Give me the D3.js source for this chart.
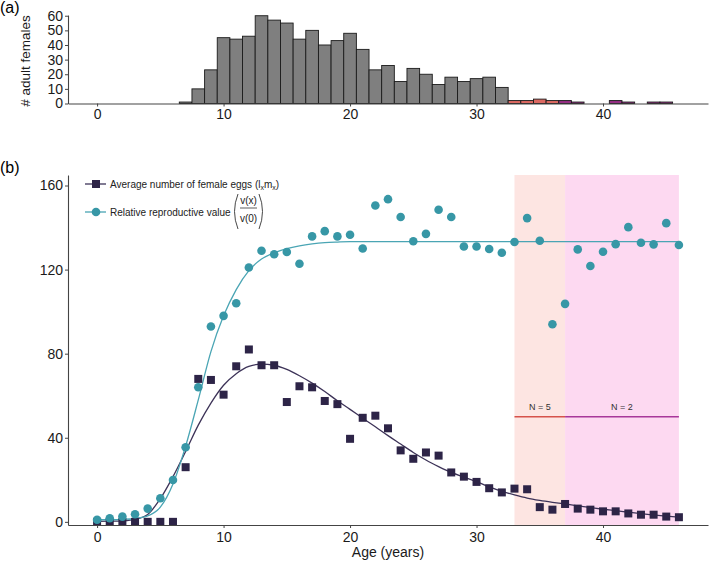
<!DOCTYPE html>
<html>
<head>
<meta charset="utf-8">
<script src="https://cdn.jsdelivr.net/npm/d3@7"></script>
<style>
  html, body { margin: 0; padding: 0; background: #fff; }
  svg { display: block; font-family: "Liberation Sans", Arial, sans-serif; }
  .axis path, .axis line { stroke: #444; }
  .axis text { fill: #1a1a1a; font-size: 14px; }
</style>
</head>
<body>
<svg id="chart" width="709" height="563"></svg>
<script>
// (a) histogram, one bin per year of age
var histAges = [7, 8, 9, 10, 11, 12, 13, 14, 15, 16, 17, 18, 19, 20, 21, 22, 23, 24, 25, 26,
  27, 28, 29, 30, 31, 32, 33, 34, 35, 36, 37, 38, 39, 40, 41, 42, 43, 44, 45];
var histCounts = [1, 10, 23, 45, 44, 46, 60, 57, 55, 44, 50, 40, 43, 48, 37, 23, 26, 15, 24, 20,
  13, 18, 15, 17, 18, 11, 2, 2, 3, 2, 2, 1, 0, 0, 2, 1, 0, 1, 1];

// (b) life table
var ages = [0, 1, 2, 3, 4, 5, 6, 7, 8, 9, 10, 11, 12, 13, 14, 15, 16, 17, 18, 19, 20, 21, 22, 23,
  24, 25, 26, 27, 28, 29, 30, 31, 32, 33, 34, 35, 36, 37, 38, 39, 40, 41, 42, 43, 44, 45, 46];
var eggs = [0, 0, 0, 0, 0, 0, 0, 26, 68, 67.5, 60.5, 74, 82, 74.5, 74.5, 57, 64.5, 64, 57.5, 56,
  39.5, 49.5, 50.5, 44.5, 34, 30, 33, 31.5, 23.5, 21.5, 19, 16, 14, 15.8, 15.5, 7, 5.8, 8.5,
  6.3, 5.8, 5, 5, 4, 3.4, 3.4, 2.5, 2.2];
var eggsFit = [0.2, 0.3, 0.5, 1.2, 3.5, 11, 21.5, 33.5, 46, 56.5, 65, 70.5, 74, 75, 74.5, 72.5,
  69.5, 66, 62, 57.6, 53.5, 49.3, 45.2, 41, 37, 33, 29.4, 26.3, 23.5, 21.3, 19.1, 16.6, 14.5,
  12.8, 11.3, 10.2, 9.3, 8.5, 7.6, 6.8, 6, 5.3, 4.6, 3.9, 3.3, 2.7, 2.2];
var repro = [1, 1.7, 2.5, 3.6, 6.3, 11.2, 19.9, 35.5, 64, 92.9, 98, 104, 121, 129, 127.3, 128.4,
  122.8, 135.8, 138.3, 135.8, 136.6, 130, 150.5, 153.5, 145, 133.5, 137, 148.5, 145, 131, 131,
  129.8, 128, 133.1, 144.5, 133.7, 94, 103.7, 129.6, 121.7, 128.5, 132.1, 140.2, 132.8, 132,
  142.1, 131.7];
var reproFit = [1, 1, 1.2, 1.6, 2.8, 7, 18, 36, 58, 81, 98, 110.5, 119.5, 125, 128, 130, 131.3,
  132.2, 132.8, 133.1, 133.3, 133.3, 133.3, 133.3, 133.3, 133.3, 133.3, 133.3, 133.3, 133.3,
  133.3, 133.3, 133.3, 133.3, 133.3, 133.3, 133.3, 133.3, 133.3, 133.3, 133.3, 133.3, 133.3,
  133.3, 133.3, 133.3, 133.3];

// small-sample age groups
var groupStart = [33, 37];
var groupEnd = [37, 46];
var groupN = [5, 2];
var groupLineValue = [50, 50];

var xTicks = [0, 10, 20, 30, 40];
var histYTicks = [0, 10, 20, 30, 40, 50, 60];
var yTicks = [0, 40, 80, 120, 160];

var svg = d3.select("#chart");

var barFill = ["#7f7f7f", "#dc6962", "#962e84"];
var shadeFill = ["#fde5e2", "#fdd9f1"];
var groupLine = ["#d6524b", "#a8379a"];
var eggColor = "#2d2447";
var eggLine = "#3d3358";
var reproColor = "#3797a6";
var reproLine = "#4aa5b4";

function groupOf(age) {
  if (age >= groupStart[1]) return 2;
  if (age >= groupStart[0]) return 1;
  return 0;
}

var x = d3.scaleLinear().domain([-2.3, 48.3]).range([68, 708]);

// ---- panel (a)
var yTop = d3.scaleLinear().domain([0, 60.5]).range([103.5, 15]);

svg.append("g").selectAll("rect")
  .data(histAges.map(function (a, i) { return { age: a, n: histCounts[i] }; }))
  .enter().append("rect")
  .filter(function (d) { return d.n > 0; })
  .attr("x", function (d) { return x(d.age - 0.5); })
  .attr("width", function (d) { return x(d.age + 0.5) - x(d.age - 0.5); })
  .attr("y", function (d) { return yTop(d.n); })
  .attr("height", function (d) { return yTop(0) - yTop(d.n); })
  .attr("fill", function (d) { return barFill[groupOf(d.age)]; })
  .attr("stroke", "#1a1a1a")
  .attr("stroke-width", 0.9);

svg.append("g").attr("class", "axis")
  .attr("transform", "translate(0," + yTop(0) + ")")
  .call(d3.axisBottom(x).tickValues(xTicks).tickSize(3).tickSizeOuter(0).tickPadding(3))
  .call(function (g) { g.select(".domain").attr("stroke-width", 1.1); });

svg.append("g").attr("class", "axis")
  .attr("transform", "translate(" + x.range()[0] + ",0)")
  .call(d3.axisLeft(yTop).tickValues(histYTicks).tickSize(3).tickSizeOuter(0).tickPadding(2))
  .call(function (g) { g.select(".domain").attr("stroke-width", 1.1); });

svg.append("text")
  .attr("transform", "translate(30,61) rotate(-90)")
  .attr("text-anchor", "middle")
  .attr("font-size", 13.5)
  .attr("fill", "#1a1a1a")
  .text("# adult females");

svg.append("text").attr("x", 0).attr("y", 13).attr("font-size", 16).text("(a)");

// ---- panel (b)
var y = d3.scaleLinear().domain([-1.5, 165]).range([525, 175]);

svg.append("g").selectAll("rect")
  .data(groupStart)
  .enter().append("rect")
  .attr("x", function (d) { return x(d); })
  .attr("width", function (d, i) { return x(groupEnd[i]) - x(d); })
  .attr("y", y.range()[1])
  .attr("height", y.range()[0] - y.range()[1])
  .attr("fill", function (d, i) { return shadeFill[i]; });

svg.append("g").selectAll("line")
  .data(groupStart)
  .enter().append("line")
  .attr("x1", function (d) { return x(d); })
  .attr("x2", function (d, i) { return x(groupEnd[i]); })
  .attr("y1", function (d, i) { return y(groupLineValue[i]); })
  .attr("y2", function (d, i) { return y(groupLineValue[i]); })
  .attr("stroke", function (d, i) { return groupLine[i]; })
  .attr("stroke-width", 1.3);

svg.append("g").selectAll("text")
  .data(groupStart)
  .enter().append("text")
  .attr("x", function (d, i) { return x((d + groupEnd[i]) / 2); })
  .attr("y", function (d, i) { return y(groupLineValue[i]) - 7; })
  .attr("text-anchor", "middle")
  .attr("font-size", 9)
  .attr("fill", "#333")
  .text(function (d, i) { return "N = " + groupN[i]; });

var line = function (vals) {
  return d3.line()
    .x(function (d, i) { return x(ages[i]); })
    .y(function (d) { return y(d); })
    .curve(d3.curveMonotoneX)(vals);
};

svg.append("path").attr("d", line(eggsFit))
  .attr("fill", "none").attr("stroke", eggLine).attr("stroke-width", 1.3);
svg.append("path").attr("d", line(reproFit))
  .attr("fill", "none").attr("stroke", reproLine).attr("stroke-width", 1.3);

svg.append("g").selectAll("rect")
  .data(eggs)
  .enter().append("rect")
  .attr("x", function (d, i) { return x(ages[i]) - 4; })
  .attr("y", function (d) { return y(d) - 4; })
  .attr("width", 8)
  .attr("height", 8)
  .attr("fill", eggColor);

svg.append("g").selectAll("circle")
  .data(repro)
  .enter().append("circle")
  .attr("cx", function (d, i) { return x(ages[i]); })
  .attr("cy", function (d) { return y(d); })
  .attr("r", 4.3)
  .attr("fill", reproColor);

svg.append("g").attr("class", "axis")
  .attr("transform", "translate(0," + y.range()[0] + ")")
  .call(d3.axisBottom(x).tickValues(xTicks).tickSize(3).tickSizeOuter(0).tickPadding(4))
  .call(function (g) { g.select(".domain").attr("stroke-width", 1.1); });

svg.append("g").attr("class", "axis")
  .attr("transform", "translate(" + x.range()[0] + ",0)")
  .call(d3.axisLeft(y).tickValues(yTicks).tickSize(3).tickSizeOuter(0).tickPadding(2))
  .call(function (g) { g.select(".domain").attr("stroke-width", 1.1); });

svg.append("text")
  .attr("x", (x.range()[0] + x.range()[1]) / 2)
  .attr("y", 557)
  .attr("text-anchor", "middle")
  .attr("font-size", 14)
  .attr("fill", "#1a1a1a")
  .text("Age (years)");

svg.append("text").attr("x", 0).attr("y", 173).attr("font-size", 16).text("(b)");

// legend
var legend = svg.append("g").attr("font-size", 10).attr("fill", "#222");

legend.append("line").attr("x1", 85).attr("x2", 106).attr("y1", 184).attr("y2", 184)
  .attr("stroke", eggLine).attr("stroke-width", 1.3);
legend.append("rect").attr("x", 92).attr("y", 180).attr("width", 8).attr("height", 8)
  .attr("fill", eggColor);
var t1 = legend.append("text").attr("x", 110).attr("y", 187.5);
t1.append("tspan").text("Average number of female eggs (l");
t1.append("tspan").attr("font-size", 7).attr("dy", 2).text("x");
t1.append("tspan").attr("dy", -2).text("m");
t1.append("tspan").attr("font-size", 7).attr("dy", 2).text("x");
t1.append("tspan").attr("dy", -2).text(")");

legend.append("line").attr("x1", 85).attr("x2", 106).attr("y1", 212).attr("y2", 212)
  .attr("stroke", reproLine).attr("stroke-width", 1.3);
legend.append("circle").attr("cx", 96).attr("cy", 212).attr("r", 4.3).attr("fill", reproColor);
legend.append("text").attr("x", 110).attr("y", 215.5).text("Relative reproductive value");

legend.append("path").attr("d", "M238,194 Q231,211.5 238,229")
  .attr("fill", "none").attr("stroke", "#333").attr("stroke-width", 0.9);
legend.append("path").attr("d", "M259,194 Q266,211.5 259,229")
  .attr("fill", "none").attr("stroke", "#333").attr("stroke-width", 0.9);
legend.append("line").attr("x1", 240).attr("x2", 257).attr("y1", 208).attr("y2", 208)
  .attr("stroke", "#333").attr("stroke-width", 0.8);
legend.append("text").attr("x", 248.5).attr("y", 204).attr("text-anchor", "middle").text("v(x)");
legend.append("text").attr("x", 248.5).attr("y", 221.5).attr("text-anchor", "middle").text("v(0)");
</script>
</body>
</html>
